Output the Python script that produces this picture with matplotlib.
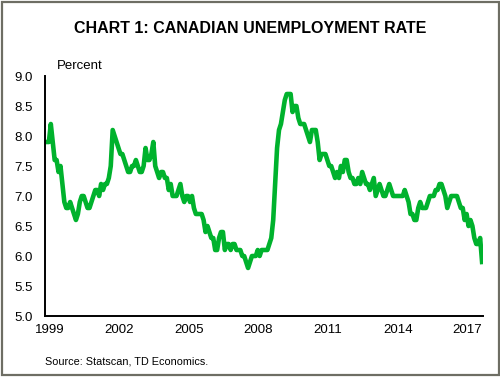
import numpy as np
import matplotlib.pyplot as plt
from matplotlib.patches import Rectangle

plt.rcParams['font.family'] = ['Liberation Sans', 'DejaVu Sans']

# monthly unemployment rate (%), Jan 1999 - Nov 2017
y1999 = [7.9, 7.9, 7.9, 8.2, 7.9, 7.6, 7.6, 7.4, 7.5, 7.2, 6.9, 6.8]
y2000 = [6.8, 6.9, 6.8, 6.7, 6.6, 6.7, 6.9, 7.0, 7.0, 6.9, 6.8, 6.8]
y2001 = [6.9, 7.0, 7.1, 7.1, 7.0, 7.2, 7.1, 7.2, 7.2, 7.3, 7.5, 8.1]
y2002 = [8.0, 7.9, 7.8, 7.7, 7.7, 7.6, 7.5, 7.4, 7.4, 7.5, 7.5, 7.6]
y2003 = [7.5, 7.4, 7.4, 7.5, 7.8, 7.6, 7.6, 7.7, 7.9, 7.5, 7.4, 7.3]
y2004 = [7.4, 7.4, 7.3, 7.3, 7.1, 7.2, 7.0, 7.0, 7.0, 7.1, 7.2, 7.0]
y2005 = [6.9, 7.0, 7.0, 6.9, 7.0, 6.8, 6.7, 6.7, 6.7, 6.7, 6.6, 6.4]
y2006 = [6.5, 6.4, 6.3, 6.3, 6.1, 6.1, 6.3, 6.4, 6.4, 6.1, 6.2, 6.2]
y2007 = [6.1, 6.2, 6.2, 6.1, 6.1, 6.1, 6.0, 6.0, 5.9, 5.8, 5.9, 6.0]
y2008 = [6.0, 6.0, 6.1, 6.0, 6.1, 6.1, 6.1, 6.1, 6.2, 6.3, 6.6, 7.2]
y2009 = [7.8, 8.1, 8.2, 8.4, 8.6, 8.7, 8.7, 8.7, 8.4, 8.5, 8.5, 8.3]
y2010 = [8.2, 8.2, 8.2, 8.1, 8.0, 7.9, 8.1, 8.1, 8.1, 7.9, 7.6, 7.7]
y2011 = [7.7, 7.7, 7.6, 7.5, 7.5, 7.4, 7.3, 7.4, 7.3, 7.5, 7.4, 7.6]
y2012 = [7.6, 7.4, 7.3, 7.3, 7.2, 7.2, 7.3, 7.2, 7.4, 7.3, 7.2, 7.2]
y2013 = [7.1, 7.2, 7.3, 7.0, 7.1, 7.2, 7.1, 7.0, 7.0, 7.1, 7.2, 7.1]
y2014 = [7.0, 7.0, 7.0, 7.0, 7.0, 7.0, 7.1, 7.0, 6.9, 6.7, 6.7, 6.6]
y2015 = [6.6, 6.8, 6.9, 6.8, 6.8, 6.8, 6.9, 7.0, 7.0, 7.0, 7.1, 7.1]
y2016 = [7.2, 7.2, 7.1, 7.0, 6.8, 6.9, 7.0, 7.0, 7.0, 7.0, 6.9, 6.8]
y2017 = [6.8, 6.6, 6.7, 6.5, 6.6, 6.5, 6.3, 6.2, 6.2, 6.3, 5.9]

rate = (y1999 + y2000 + y2001 + y2002 + y2003 + y2004 + y2005 + y2006 + y2007
        + y2008 + y2009 + y2010 + y2011 + y2012 + y2013 + y2014 + y2015
        + y2016 + y2017)
dates = 1999 + np.arange(len(rate)) / 12.0

year_ticks = [1999, 2002, 2005, 2008, 2011, 2014, 2017]
y_ticks = [5.0, 5.5, 6.0, 6.5, 7.0, 7.5, 8.0, 8.5, 9.0]

fig = plt.figure(figsize=(5, 3.77), dpi=100)
ax = fig.add_axes([0.09, 0.1618, 0.876, 0.6366])

ax.plot(dates, rate, color='#00b22d', linewidth=3.3, solid_joinstyle='round')

ax.set_ylim(5, 9)
ax.set_xlim(1999, dates[-1] + 0.04)
ax.set_yticks(y_ticks)
ax.set_yticklabels(['%.1f' % v for v in y_ticks])
ax.set_xticks(np.array(year_ticks) + 0.2)
ax.set_xticklabels([str(y) for y in year_ticks])
ax.tick_params(axis='y', length=0, pad=9, labelsize=9.5)
ax.tick_params(axis='x', length=0, pad=6, labelsize=9.5)

ax.spines['top'].set_visible(False)
ax.spines['right'].set_visible(False)
ax.spines['left'].set_linewidth(1.4)
ax.spines['bottom'].set_linewidth(1.4)

fig.text(0.5, 0.925, 'CHART 1: CANADIAN UNEMPLOYMENT RATE', ha='center', va='center',
         fontsize=11.5, fontweight='bold')
fig.text(0.114, 0.825, 'Percent', ha='left', va='center', fontsize=9.5)
fig.text(0.09, 0.04, 'Source: Statscan, TD Economics.', ha='left', va='center', fontsize=7.8)

fig.patches.append(Rectangle((0.003, 0.004), 0.994, 0.992, transform=fig.transFigure,
                             fill=False, edgecolor='#6e6e64', linewidth=1.6))

fig.savefig('out.png', dpi=100)
